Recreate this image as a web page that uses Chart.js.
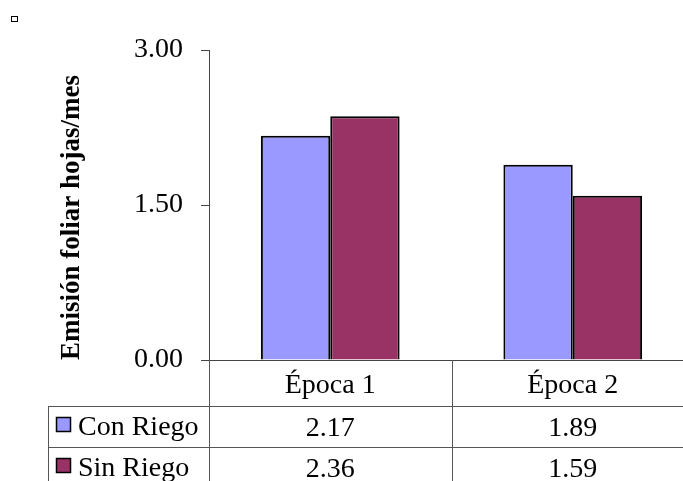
<!DOCTYPE html>
<html>
<head>
<meta charset="utf-8">
<script src="https://cdn.jsdelivr.net/npm/chart.js@4/dist/chart.umd.min.js"></script>
<style>
    html, body { margin: 0; padding: 0; background: #fff; overflow: hidden; }
    #wrap { width: 700px; height: 481px; }
</style>
</head>
<body>
<div id="wrap"><canvas id="chart"></canvas></div>
<script>
// data
const categories = ['Época 1', 'Época 2'];
const seriesNames = ['Con Riego', 'Sin Riego'];
const conRiego = [2.17, 1.89];
const sinRiego = [2.36, 1.59];
const seriesColors = ['#9999FF', '#993366'];

const serif = '"Liberation Serif", "Times New Roman", serif';

// draws the excel-like data table under the plot
const dataTable = {
    id: 'dataTable',
    afterDraw(chart) {
        const { ctx, chartArea, scales: { x } } = chart;
        const top = chartArea.bottom;
        const rowLines = [top + 46, top + 87];
        const tableLeft = 48;
        const right = chart.width;
        const bottom = chart.height;
        const catW = (x.right - x.left) / categories.length;

        ctx.save();
        ctx.strokeStyle = '#555';
        ctx.lineWidth = 1;
        ctx.beginPath();
        rowLines.forEach(y => {
            ctx.moveTo(tableLeft, y + 0.5);
            ctx.lineTo(right, y + 0.5);
        });
        ctx.moveTo(tableLeft + 0.5, rowLines[0]);
        ctx.lineTo(tableLeft + 0.5, bottom);
        ctx.moveTo(x.left + 0.5, top);
        ctx.lineTo(x.left + 0.5, bottom);
        for (let i = 1; i < categories.length; i++) {
            const xb = Math.round(x.left + catW * i) + 0.5;
            ctx.moveTo(xb, top);
            ctx.lineTo(xb, bottom);
        }
        ctx.stroke();

        ctx.fillStyle = '#000';
        ctx.font = '28px ' + serif;
        ctx.textAlign = 'center';
        ctx.textBaseline = 'alphabetic';
        const baselines = [top + 33, top + 76, top + 117];
        categories.forEach((c, i) => {
            ctx.fillText(c, x.getPixelForValue(i), baselines[0]);
        });
        [conRiego, sinRiego].forEach((vals, r) => {
            vals.forEach((v, i) => {
                ctx.fillText(v.toFixed(2), x.getPixelForValue(i), baselines[r + 1]);
            });
        });

        // legend keys in the first column
        ctx.textAlign = 'left';
        seriesNames.forEach((name, r) => {
            const y = rowLines[r] + 11;
            ctx.fillStyle = seriesColors[r];
            ctx.fillRect(56, y, 14, 14);
            ctx.strokeStyle = '#000';
            ctx.lineWidth = 1.5;
            ctx.strokeRect(56.5, y + 0.5, 14, 14);
            ctx.fillStyle = '#000';
            ctx.fillText(name, 78, baselines[r + 1] - 1);
        });

        // stray marker in the top-left corner
        ctx.strokeStyle = '#000';
        ctx.lineWidth = 1;
        ctx.strokeRect(11.5, 16.5, 6, 5);
        ctx.restore();
    }
};

const ctx = document.getElementById('chart').getContext('2d');
new Chart(ctx, {
    type: 'bar',
    data: {
        labels: categories,
        datasets: [{
            label: seriesNames[0],
            data: conRiego,
            backgroundColor: seriesColors[0],
            borderColor: '#000',
            borderWidth: 2
        }, {
            label: seriesNames[1],
            data: sinRiego,
            backgroundColor: seriesColors[1],
            borderColor: '#000',
            borderWidth: 2
        }]
    },
    options: {
        responsive: true,
        maintainAspectRatio: false,
        animation: false,
        layout: { padding: { left: 52, top: 50, right: 6, bottom: 0 } },
        datasets: { bar: { barPercentage: 1, categoryPercentage: 0.572 } },
        plugins: {
            legend: { display: false },
            tooltip: { enabled: false }
        },
        scales: {
            x: {
                ticks: { display: false },
                grid: { display: false },
                border: { display: true, color: '#444', width: 1 },
                afterFit(scale) { scale.height = 121; }
            },
            y: {
                min: 0,
                max: 3,
                ticks: {
                    stepSize: 1.5,
                    padding: 18,
                    color: '#000',
                    font: { family: serif, size: 28 },
                    callback: v => v.toFixed(2)
                },
                grid: { drawOnChartArea: false, drawTicks: true, tickLength: 8, color: '#444' },
                border: { display: true, color: '#444', width: 1 },
                title: {
                    display: true,
                    text: 'Emisión foliar hojas/mes',
                    align: 'start',
                    color: '#000',
                    font: { family: serif, size: 27, weight: 'bold' }
                },
                afterFit(scale) { scale.width = 157; }
            }
        }
    },
    plugins: [dataTable]
});
</script>
</body>
</html>
